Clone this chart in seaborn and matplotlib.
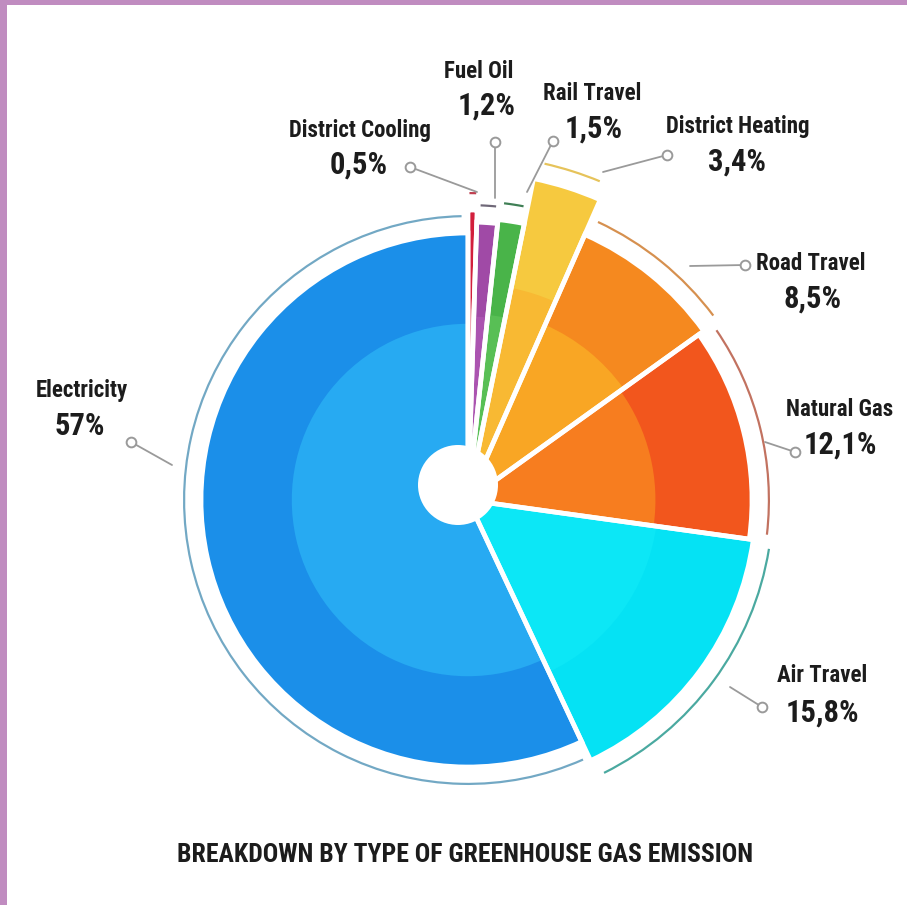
import matplotlib
matplotlib.use("Agg")
import matplotlib.pyplot as plt
from matplotlib import font_manager
from matplotlib.patches import Circle, Rectangle
import seaborn as sns

# Greenhouse gas emission breakdown (percent)
categories = ["Electricity", "Air Travel", "Natural Gas", "Road Travel",
              "District Heating", "Rail Travel", "Fuel Oil", "District Cooling"]
shares = [57, 15.8, 12.1, 8.5, 3.4, 1.5, 1.2, 0.5]

outer_colors = ["#1b8fe9", "#05e2f4", "#f2561d", "#f5891f",
                "#f6c93f", "#49b449", "#a04aa6", "#d21f3c"]
inner_colors = ["#27aaf2", "#0ce7f6", "#f77d1f", "#f9a624",
                "#f8b933", "#58bf55", "#ab54b0", "#d83048"]
ring_colors = ["#72a8c4", "#4aa9a0", "#c27260", "#d6904f",
               "#e6c35a", "#3f7f55", "#6f6878", "#c04050"]

W, H = 907, 905
sns.set_theme(style="white")

available = {f.name for f in font_manager.fontManager.ttflist}
font = next((f for f in ["Liberation Sans Narrow", "Roboto Condensed",
                         "DejaVu Sans Condensed", "Liberation Sans", "DejaVu Sans"]
             if f in available), "DejaVu Sans")
plt.rcParams["font.family"] = [font, "DejaVu Sans"]


def py(y):
    return H - y


fig = plt.figure(figsize=(W / 100, H / 100), dpi=100)
fig.patch.set_facecolor("white")
ax = fig.add_axes([0, 0, 1, 1])

cx, cy = 468, py(500)
radii = [267, 288, 284, 290, 328, 282, 278, 290]
inner_frac = 0.66
ring_gap = 18

pie_kw = dict(startangle=90, counterclock=True, center=(cx, cy), radius=1)

# solid outer wedges
outer, _ = ax.pie(shares, colors=outer_colors,
                  wedgeprops=dict(linewidth=0, zorder=1), **pie_kw)
for w, r in zip(outer, radii):
    w.set_radius(r)

# lighter inner zone of each wedge
inner, _ = ax.pie(shares, colors=inner_colors,
                  wedgeprops=dict(linewidth=0, zorder=2), **pie_kw)
for w, r in zip(inner, radii):
    w.set_radius(r * inner_frac)

# white separators between wedges
sep, _ = ax.pie(shares, colors=["none"] * len(shares),
                wedgeprops=dict(edgecolor="white", linewidth=3.4, zorder=3), **pie_kw)
for w, r in zip(sep, radii):
    w.set_radius(r)
    w.set_facecolor("none")

# thin outer arcs following each wedge
rings, _ = ax.pie(shares, colors=ring_colors,
                  wedgeprops=dict(linewidth=0, zorder=3, width=0.02), **pie_kw)
for w, r in zip(rings, radii):
    span = w.theta2 - w.theta1
    trim = min(1.3, span * 0.15)
    w.set_theta1(w.theta1 + trim)
    w.set_theta2(w.theta2 - trim)
    w.set_radius(r + ring_gap)
    w.set_width(2.2)

# centre hole
ax.add_patch(Circle((458, py(485)), 40, facecolor="white", edgecolor="none", zorder=5))

# label layout: name centre, value centre, connector marker, connector end (pixels)
layout = {
    "Electricity":      ((82, 390), (80, 426), (131, 442), (172, 465)),
    "Air Travel":       ((822, 676), (822, 713), (762, 707), (730, 687)),
    "Natural Gas":      ((840, 410), (840, 445), (795, 452), (765, 442)),
    "Road Travel":      ((811, 264), (813, 299), (745, 265), (690, 266)),
    "District Heating": ((738, 127), (737, 162), (667, 155), (603, 172)),
    "Rail Travel":      ((592, 94), (594, 129), (553, 141), (527, 192)),
    "Fuel Oil":         ((479, 72), (487, 106), (495, 142), (495, 198)),
    "District Cooling": ((360, 131), (359, 165), (410, 167), (477, 192)),
}

text_color = "#1c1c1c"
line_color = "#9a9a9a"
for name, value in zip(categories, shares):
    (nx, ny), (vx, vy), (mx, my), (ex, ey) = layout[name]
    pct = f"{value:g}".replace(".", ",") + "%"
    ax.text(nx, py(ny), name, ha="center", va="center", fontsize=16.5,
            fontweight="bold", color=text_color, zorder=6)
    ax.text(vx, py(vy), pct, ha="center", va="center", fontsize=22,
            fontweight="bold", color=text_color, zorder=6)
    ax.plot([mx, ex], [py(my), py(ey)], color=line_color, lw=1.3, zorder=4,
            solid_capstyle="round")
    ax.plot([mx], [py(my)], marker="o", ms=7, mfc="white", mec=line_color,
            mew=1.4, zorder=5)

ax.text(465, py(855), "BREAKDOWN BY TYPE OF GREENHOUSE GAS EMISSION",
        ha="center", va="center", fontsize=18.5, fontweight="bold",
        color=text_color, zorder=6)

# frame strips
frame_color = "#c08cc0"
ax.add_patch(Rectangle((0, 0), 7, H, facecolor=frame_color, edgecolor="none", zorder=10))
ax.add_patch(Rectangle((0, H - 5), W, 5, facecolor=frame_color, edgecolor="none", zorder=10))

ax.set_xlim(0, W)
ax.set_ylim(0, H)
ax.set_aspect("equal")
ax.axis("off")

fig.savefig("out.png", dpi=100, facecolor="white")
